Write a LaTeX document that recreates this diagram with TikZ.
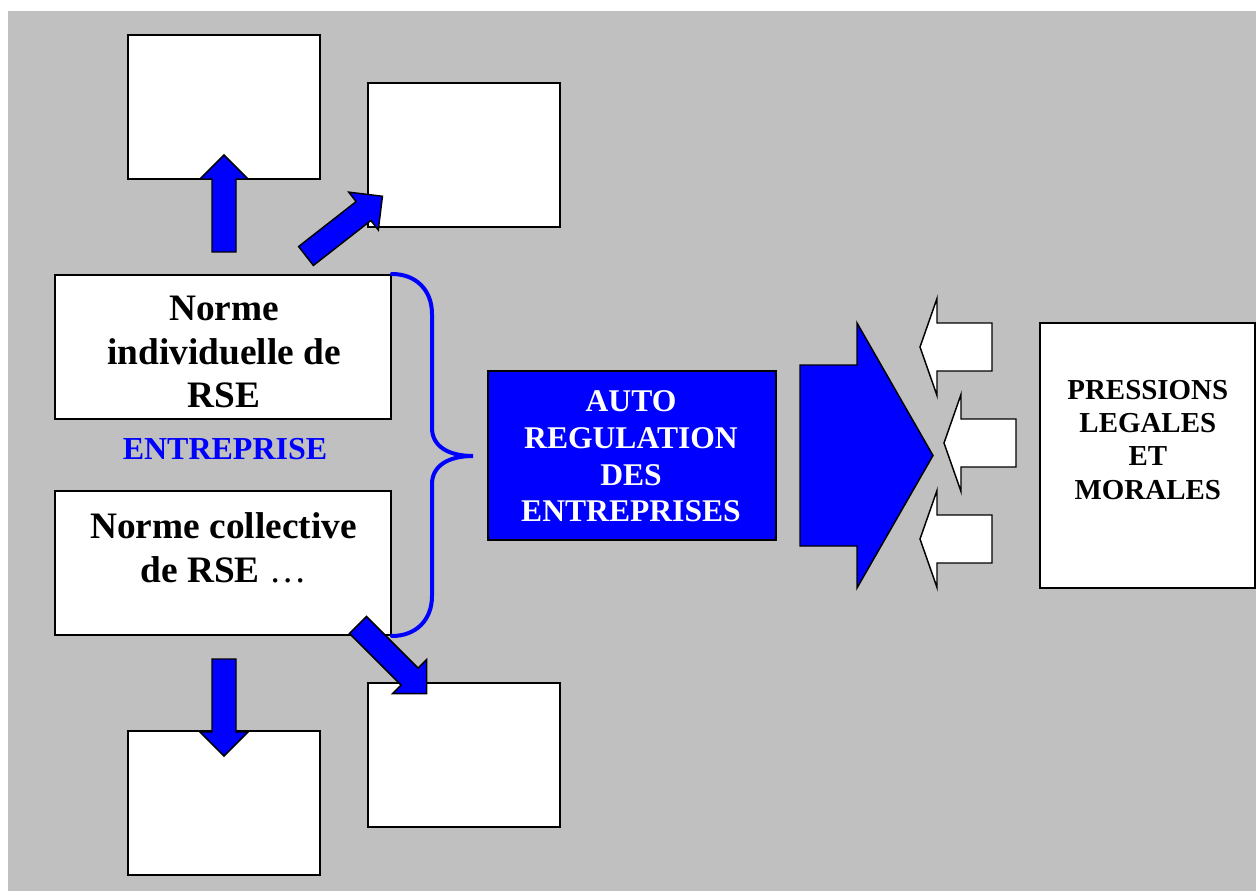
\documentclass[tikz,border=0pt]{standalone}
\usepackage{fontspec}
\setmainfont{Liberation Serif}
\definecolor{panel}{RGB}{192,192,192}
\definecolor{vivid}{RGB}{0,0,255}

\tikzset{
  box/.style={draw=black, line width=1.1pt, fill=white, inner sep=0pt, outer sep=0pt},
  smallbox/.style={box, minimum width=144pt, minimum height=108pt},
  normbox/.style={box, minimum width=252pt, minimum height=108pt},
  label/.style={inner sep=0pt, outer sep=0pt, anchor=north, align=center},
  normfont/.style={font=\fontsize{28}{32.4}\selectfont\bfseries},
  % blue block arrow, drawn along +x from its tail centre
  flowarrow/.pic={
    \draw[fill=vivid, draw=black, line width=1.1pt, line join=miter]
      (0,-12) -- (73,-12) -- (73,-24) -- (97,0) -- (73,24) -- (73,12) -- (0,12) -- cycle;
  },
  % white block arrow, tip at the origin, pointing to -x
  pressarrow/.pic={
    \draw[fill=white, draw=black, line width=1.1pt, line join=miter]
      (0,0) -- (17,-48.5) -- (17,-24) -- (72,-24) -- (72,24) -- (17,24) -- (17,48.5) -- cycle;
  }
}

\begin{document}
\begin{tikzpicture}[x=0.75pt, y=-0.75pt]
  \useasboundingbox (0,0) rectangle (1256,891);
  \fill[white] (0,0) rectangle (1256,891);
  \fill[panel] (8,11) rectangle (1256,891);

  % empty boxes around the two norms
  \node[smallbox] (topleft)  at (224,107) {};
  \node[smallbox] (topright) at (464,155) {};
  \node[smallbox] (botleft)  at (224,803) {};
  \node[smallbox] (botright) at (464,755) {};

  % the two norm boxes
  \node[normbox] (indiv) at (223,347) {};
  \node[normbox] (collec) at (223,563) {};
  \node[label, normfont] (indivtxt) at (224,296.5) {Norme\\individuelle de\\RSE};
  \node[label, normfont] (collectxt) at (223.5,513) {Norme collective\\de RSE {\mdseries …}};

  \node[label, font=\fontsize{24}{28}\selectfont\bfseries, text=vivid] (firm) at (225,438.3) {ENTREPRISE};

  % brace gathering both norms
  \draw[vivid, line width=3pt, line cap=round]
    (392,274) .. controls (416,274) and (432,290) .. (432,314)
    -- (432,428) .. controls (432,446) and (448,456) .. (473,456)
    .. controls (448,456) and (432,466) .. (432,484)
    -- (432,596) .. controls (432,620) and (416,636) .. (392,636);

  % self-regulation box
  \node[box, fill=vivid, minimum width=216pt, minimum height=126.75pt] (autoreg) at (632,455.5) {};
  \node[label, font=\fontsize{23.7}{27.5}\selectfont\bfseries, text=white] (autotxt) at (631,391)
    {AUTO\\REGULATION\\DES\\ENTREPRISES};

  % external pressures box
  \node[box, minimum width=161.25pt, minimum height=198.75pt] (press) at (1147.5,455.5) {};
  \node[label, font=\fontsize{21.7}{25}\selectfont\bfseries] (presstxt) at (1147.8,380)
    {PRESSIONS\\LEGALES\\ET\\MORALES};

  % block arrows from the norms to the empty boxes
  \pic[rotate=90]  at (224,252) {flowarrow};
  \pic[rotate=38]  at (306,256) {flowarrow};
  \pic[rotate=-90] at (224,659) {flowarrow};
  \pic[rotate=-45] at (358,625) {flowarrow};

  % large arrow of self-regulation
  \draw[fill=vivid, draw=black, line width=1.1pt, line join=miter]
    (800,365) -- (857,365) -- (857,323) -- (933,455.5) -- (857,588) -- (857,546) -- (800,546) -- cycle;

  % pressures pushing back
  \pic at (920,347) {pressarrow};
  \pic at (944,443) {pressarrow};
  \pic at (920,539) {pressarrow};
\end{tikzpicture}
\end{document}
